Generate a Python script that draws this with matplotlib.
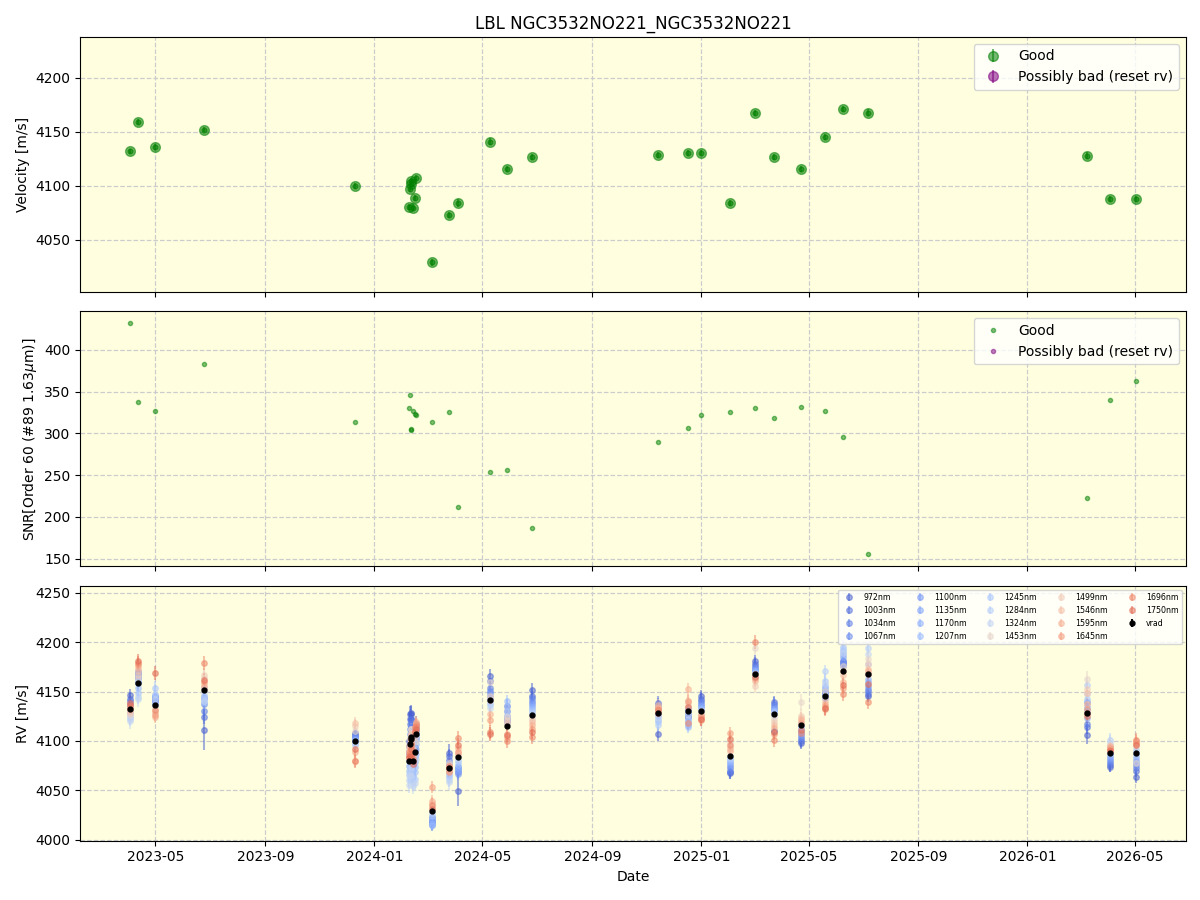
import matplotlib
matplotlib.use("Agg")
import matplotlib.pyplot as plt
import matplotlib.dates as mdates
import numpy as np
import pandas as pd

# observation dates
dates = pd.to_datetime([
    "2023-04-03", "2023-04-12", "2023-05-01", "2023-06-24", "2023-12-10",
    "2024-02-09", "2024-02-10", "2024-02-11", "2024-02-11", "2024-02-13",
    "2024-02-15", "2024-02-17", "2024-03-05", "2024-03-25", "2024-04-04",
    "2024-05-10", "2024-05-29", "2024-06-25", "2024-11-13", "2024-12-17",
    "2025-01-01", "2025-02-02", "2025-03-02", "2025-03-23", "2025-04-22",
    "2025-05-19", "2025-06-08", "2025-07-07", "2026-03-09", "2026-04-03",
    "2026-05-02"])

# velocity (m/s)
vrad = [4132, 4159, 4136, 4152, 4100,
        4080, 4097, 4102, 4104, 4079.5,
        4089, 4107, 4029, 4073, 4084,
        4141, 4115.5, 4126.6, 4128.7, 4130.6,
        4130.6, 4084.3, 4167.6, 4127, 4115.7,
        4145.4, 4171.3, 4167.6, 4127.8, 4088,
        4088]
vrad_err = [2.5, 2.8, 2.6, 2.4, 3.0,
            2.7, 2.5, 2.9, 2.9, 2.7,
            2.8, 2.6, 3.2, 3.0, 3.5,
            2.9, 2.8, 3.1, 2.9, 2.7,
            2.6, 2.8, 2.6, 2.9, 2.8,
            2.7, 2.6, 3.3, 3.4, 2.8,
            2.6]

# SNR order 60
snr = [432, 337, 327, 383, 313,
       330, 346, 305, 304, 327,
       323, 322, 313, 326, 212,
       254, 256, 187, 290, 306,
       322, 326, 330, 318, 331,
       327, 296, 155, 222, 340,
       363]

# per-wavelength RV
wavelengths = [972, 1003, 1034, 1067, 1100, 1135, 1170, 1207, 1245,
               1284, 1324, 1453, 1499, 1546, 1595, 1645, 1696, 1750]
wl_err = [8, 7, 7, 6, 6, 6, 6, 6, 7, 7, 8, 8, 7, 6, 6, 6, 7, 7]
err_972 = [6, 7, 7, 20, 6, 8, 8, 8, 8, 8, 8, 8, 7, 9, 15,
           7, 7, 7, 7, 7, 6, 6, 6, 6, 6, 6, 6, 6, 9, 6, 6]

# offsets from vrad, one row per date, columns 972nm ... 1750nm
wl_offsets = [
    [15, 10, 8, 5, 3, 0, -3, -5, -8, -10, -12, -6, -4, -2, 0, 2, 4, 6],
    [0, 5, 8, 10, 12, 6, 2, -5, -10, -15, -17, 5, 8, 12, 15, 18, 20, 22],
    [6, 9, 5, 4, 8, 2, 0, 10, 18, 12, 6, -2, -6, -8, -12, -10, -5, 33],
    [-41, -28, -22, -15, -10, -8, 2, -13, -5, -10, -12, 12, 15, 5, 3, 8, 27, 10],
    [8, 6, 5, 3, 4, 2, 0, 1, -2, -3, -4, 10, 15, 18, -11, -20, -20, -8],
    [20, 15, 10, 8, 5, 0, -5, -10, -15, -20, -25, 5, 10, 15, 10, 8, 5, 3],
    [30, 25, 20, 15, 10, 5, 0, -10, -20, -28, -32, -5, 0, 5, -3, -8, -10, -12],
    [25, 20, 12, 8, 5, 0, -5, -12, -20, -30, -38, 10, 5, 0, -5, -10, -15, -18],
    [24, 18, 14, 10, 6, 2, -4, -10, -18, -25, -30, 8, 4, 2, -2, -6, -8, -12],
    [10, 8, 5, 3, 0, -5, -10, -15, -18, -22, -25, 10, 12, 8, 5, 2, 0, -3],
    [5, 3, 2, 0, -3, -5, -10, -15, -20, -28, -32, 10, 15, 18, 20, 22, 25, 20],
    [10, 8, 5, 3, 0, -3, -5, -10, -15, -20, -25, 5, 8, 10, 12, 10, 8, 5],
    [-6, -10, -12, -14, -10, -8, -12, -14, -5, -2, 0, 5, 3, 8, 10, 24, 6, 2],
    [15, 12, 8, 5, 3, 0, -5, -8, -10, -13, -15, 5, 3, 0, -3, -5, 2, 0],
    [-35, -15, -12, -10, -18, -14, -11, -8, -5, -3, 0, 2, 5, 3, 9, 5, 19, 12],
    [25, 20, 13, 10, 8, 5, 2, 0, -3, -5, -8, 19, 5, 0, -14, -20, -32, -34],
    [20, 15, 10, 8, 6, 5, 3, 25, 20, 15, 10, 9, 6, 3, -9, -12, -16, -10],
    [25, 19, 17, 14, 12, 10, 8, 6, 4, 2, 0, -3, -5, -7, -10, -15, -23, -18],
    [-22, 10, 8, 5, 3, 0, -3, -8, -10, -13, -5, 2, 5, 8, 6, 4, 3, 0],
    [-5, -7, -3, 0, 2, -10, -14, -17, -12, -8, -4, 5, 10, 8, 22, 10, -12, 4],
    [15, 12, 10, 8, 6, 5, 3, 2, 0, -2, -3, 0, -2, -4, -5, -6, -9, -8],
    [-17, -16, -15, -12, -10, -8, -6, -5, -3, -2, 0, 15, 10, 8, 5, 24, 12, 18],
    [13, 10, 8, 6, 5, 4, 3, 2, 0, -2, -3, 27, -12, -7, -5, 0, 33, -3],
    [-17, 12, 10, 8, 6, 5, 4, 3, 2, 0, -2, -5, -8, -11, -14, -20, -26, -18],
    [-18, -16, -14, -12, -10, -8, -6, -4, -2, 0, 2, 24, 10, 8, 5, 2, -8, -5],
    [5, 3, 2, 0, -2, 3, 8, 10, 15, 25, 12, 5, 0, -5, -8, -10, -13, -12],
    [10, 8, 5, 7, 10, 14, 17, 20, 24, 22, 18, 5, 0, -5, -12, -18, -24, -15],
    [-22, -20, -17, -15, -12, -8, -5, 0, 10, 27, 20, 15, 10, 5, 3, 0, -28, -10],
    [-22, -14, -11, 12, 5, 0, -5, 8, 15, 29, 20, 35, 25, 21, 10, 5, 0, -3],
    [-14, -12, -10, -8, -6, -4, -2, 0, 5, 13, 10, 8, 6, 4, 7, 5, 3, 2],
    [-25, -18, -15, -12, -10, -8, -5, -2, 0, 2, 4, -10, 8, 10, 12, 10, 13, 8],
]

bg = "lightyellow"
grid_kw = dict(color="#cccccc", linestyle="--", linewidth=0.9)

fig, axes = plt.subplots(3, 1, sharex=True, figsize=(12, 9), dpi=100)
fig.subplots_adjust(left=0.067, right=0.988, top=0.959, bottom=0.066, hspace=0.078)
ax1, ax2, ax3 = axes

# top panel: velocity
ax1.errorbar(dates, vrad, yerr=vrad_err, fmt="o", color="green", ms=7,
             alpha=0.55, label="Good")
ax1.plot(dates, vrad, "o", color="green", ms=3.5, alpha=0.6)
ax1.errorbar([], [], yerr=[], fmt="o", color="purple", ms=7, alpha=0.55,
             label="Possibly bad (reset rv)")
ax1.set_ylabel("Velocity [m/s]")
ax1.set_ylim(4002, 4238)
ax1.set_yticks([4050, 4100, 4150, 4200])
ax1.set_title("LBL NGC3532NO221_NGC3532NO221")
ax1.legend(loc="upper right")

# middle panel: SNR
ax2.plot(dates, snr, ".", color="green", alpha=0.5, label="Good")
ax2.plot([], [], ".", color="purple", alpha=0.5, label="Possibly bad (reset rv)")
ax2.set_ylabel(r"SNR[Order 60 (#89 1.63$\mu$m)]")
ax2.set_ylim(141, 446)
ax2.legend(loc="upper right")

# bottom panel: per-wavelength RV
cmap = plt.get_cmap("coolwarm")
offs = np.array(wl_offsets, dtype=float)
for j, wl in enumerate(wavelengths):
    frac = (wl - wavelengths[0]) / (wavelengths[-1] - wavelengths[0])
    c = cmap(0.05 + 0.8 * frac)
    yv = np.array(vrad) + offs[:, j]
    if j == 0:
        ye = err_972
    else:
        ye = wl_err[j]
    ax3.errorbar(dates, yv, yerr=ye, fmt="o", color=c, ms=4, alpha=0.5,
                 lw=1.5, label=f"{wl}nm")
ax3.errorbar(dates, vrad, yerr=vrad_err, fmt="o", color="black", ms=3.5,
             label="vrad")
ax3.set_ylabel("RV [m/s]")
ax3.set_ylim(3999, 4257)
ax3.set_xlabel("Date")
ax3.legend(loc="upper right", ncol=5, fontsize=5.7)

for ax in axes:
    ax.set_facecolor(bg)
    ax.grid(True, **grid_kw)
    ax.set_axisbelow(True)

ax3.set_xlim(pd.Timestamp("2023-02-06"), pd.Timestamp("2026-06-27"))
ax3.xaxis.set_major_locator(mdates.MonthLocator(bymonth=[1, 5, 9]))
ax3.xaxis.set_major_formatter(mdates.DateFormatter("%Y-%m"))

plt.savefig("out.png")
